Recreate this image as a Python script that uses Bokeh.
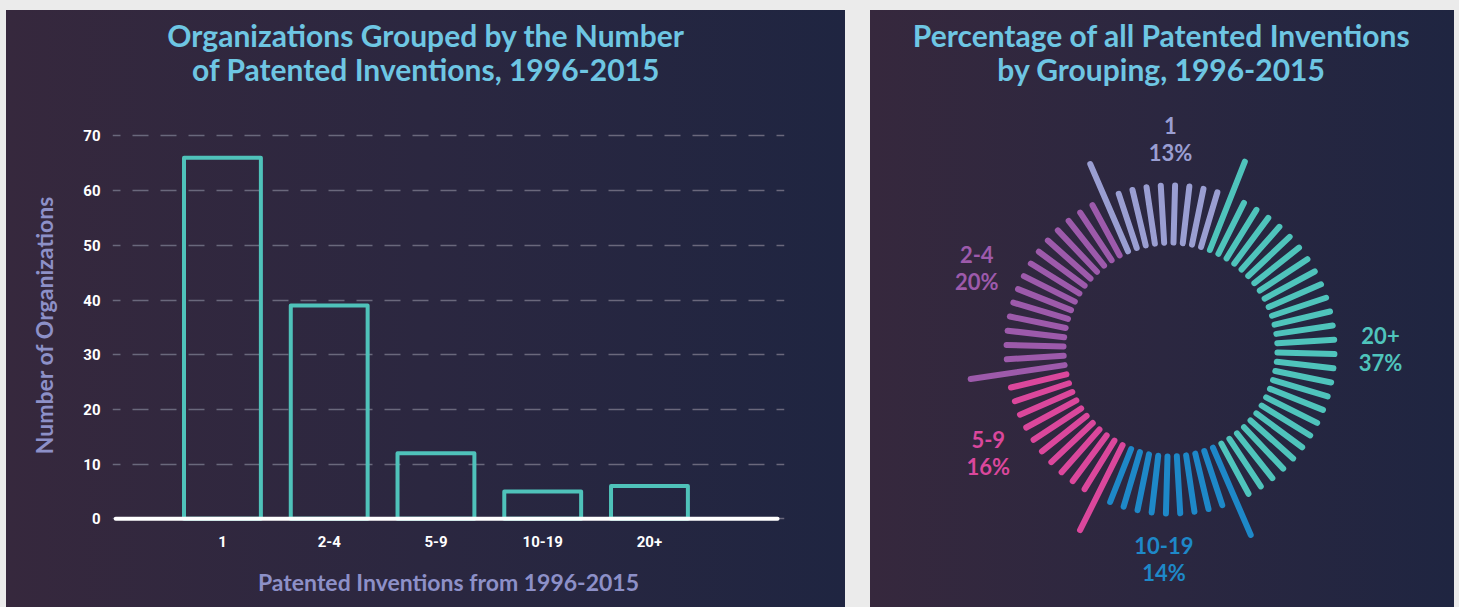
import math
from bokeh.plotting import figure
from bokeh.layouts import row, column
from bokeh.models import Range1d, FixedTicker
from bokeh.core.properties import value
from bokeh.embed import file_html
from bokeh.resources import INLINE

# ---------------- data ----------------
categories = ["1", "2-4", "5-9", "10-19", "20+"]
org_counts = [66, 39, 12, 5, 6]
pct_inventions = [13, 20, 16, 14, 37]
y_ticks = [0, 10, 20, 30, 40, 50, 60, 70]
title_left = ["Organizations Grouped by the Number", "of Patented Inventions, 1996-2015"]
title_right = ["Percentage of all Patented Inventions", "by Grouping, 1996-2015"]
x_axis_title = "Patented Inventions from 1996-2015"
y_axis_title = "Number of Organizations"

# ---------------- style ----------------
GROUP_COLORS = ["#9a9ed2", "#9d5aab", "#db479c", "#1e88c8", "#4fc4bc"]
BAR_COLOR = "#4fc2ba"
TITLE_COLOR = "#6ec6e3"
AXIS_TITLE_COLOR = "#8d90c8"
GRID_COLOR = "#6a687c"
GRADIENT = "linear-gradient(90deg, #36283d 0%, #2b2740 50%, #1f2541 100%)"
PAGE_BG = "#ebebeb"
TITLE_FONT = "Lato"
TICK_FONT = "Roboto"

N_SPOKES = 72
R_IN, R_OUT, R_LONG, R_LABEL = 107, 164, 202, 210
LABEL_NUDGE = {"5-9": 4.4, "2-4": -7.9}   # small angular nudges (degrees) for label placement

LEFT_W, LEFT_BORDER_L, LEFT_BORDER_R = 839, 106, 61


def style_panel(p):
    p.background_fill_alpha = 0
    p.border_fill_alpha = 0
    p.outline_line_color = None
    p.styles = {"background": GRADIENT}


# ---------------- left: title strip ----------------
# frame spans the same columns as the bar chart's frame; x data = pixel column in the panel
pt = figure(width=LEFT_W, height=110,
            x_range=Range1d(LEFT_BORDER_L, LEFT_W - LEFT_BORDER_R), y_range=Range1d(0, 110),
            x_axis_type=None, y_axis_type=None, min_border=0,
            min_border_left=LEFT_BORDER_L, min_border_right=LEFT_BORDER_R,
            toolbar_location=None, output_backend="svg")
style_panel(pt)
pt.xgrid.visible = False
pt.ygrid.visible = False
pt.text(x=[419.5, 419.5], y=[86, 52], text=title_left, text_align="center",
        text_baseline="middle", text_font=value(TITLE_FONT), text_font_style="bold",
        text_font_size="30px", text_color=TITLE_COLOR)

# ---------------- left: bar chart ----------------
xpos = [i + 1 for i in range(len(categories))]
p1 = figure(width=LEFT_W, height=487, x_range=Range1d(-0.03, 6.265), y_range=Range1d(-1.04, 71.9),
            toolbar_location=None, output_backend="svg", min_border=0,
            min_border_left=LEFT_BORDER_L, min_border_right=LEFT_BORDER_R,
            min_border_top=5, min_border_bottom=83)
style_panel(p1)

p1.vbar(x=xpos, top=org_counts, bottom=0, width=0.72, fill_alpha=0,
        line_color=BAR_COLOR, line_width=4, line_join="round")
p1.segment(x0=[0], y0=[0], x1=[6.2], y1=[0], line_color="white", line_width=4, line_cap="round")

p1.xgrid.grid_line_color = None
p1.ygrid.ticker = FixedTicker(ticks=y_ticks)
p1.ygrid.grid_line_color = GRID_COLOR
p1.ygrid.grid_line_width = 1.5
p1.ygrid.grid_line_dash = "16 12"
p1.ygrid.grid_line_dash_offset = 8

p1.yaxis.ticker = FixedTicker(ticks=y_ticks)
p1.xaxis.ticker = FixedTicker(ticks=xpos)
p1.xaxis.major_label_overrides = {x: c for x, c in zip(xpos, categories)}
for ax in (p1.xaxis[0], p1.yaxis[0]):
    ax.axis_line_color = None
    ax.major_tick_line_color = None
    ax.minor_tick_line_color = None
    ax.major_label_text_color = "white"
    ax.major_label_text_font = TICK_FONT
    ax.major_label_text_font_style = "bold"
    ax.major_label_text_font_size = "15px"
    ax.axis_label_text_color = AXIS_TITLE_COLOR
    ax.axis_label_text_font = TITLE_FONT
    ax.axis_label_text_font_style = "bold"
    ax.axis_label_text_font_size = "23px"
p1.yaxis.axis_label = y_axis_title
p1.yaxis.major_label_standoff = 6
p1.yaxis.axis_label_standoff = 22
p1.xaxis.axis_label = x_axis_title
p1.xaxis.major_label_standoff = 5
p1.xaxis.axis_label_standoff = 18

left = column(pt, p1, spacing=0)

# ---------------- right: radial spokes ----------------
pr = figure(width=584, height=597, x_range=Range1d(-300, 284), y_range=Range1d(-258, 339),
            x_axis_type=None, y_axis_type=None, min_border=0,
            toolbar_location=None, output_backend="svg")
style_panel(pr)
pr.xgrid.visible = False
pr.ygrid.visible = False

# clockwise order from the top: first group, then the remaining groups in reverse
order = [0] + list(range(len(categories) - 1, 0, -1))
step = 360.0 / N_SPOKES
theta0 = -pct_inventions[0] / 2 * 3.6

sx0, sy0, sx1, sy1, scol = [], [], [], [], []
lx, ly_name, ly_pct, ltxt_name, ltxt_pct, lcol = [], [], [], [], [], []
cum = 0.0
prev_n = 0
for gi in order:
    start_pct = cum
    cum += pct_inventions[gi]
    n_end = int(math.floor(cum * N_SPOKES / 100 + 1e-9))
    for k in range(prev_n, n_end):
        a = math.radians(theta0 + k * step)
        r1 = R_LONG if k == prev_n else R_OUT
        sx0.append(R_IN * math.sin(a)); sy0.append(R_IN * math.cos(a))
        sx1.append(r1 * math.sin(a)); sy1.append(r1 * math.cos(a))
        scol.append(GROUP_COLORS[gi])
    prev_n = n_end
    mid = theta0 + (start_pct + pct_inventions[gi] / 2) * 3.6 + LABEL_NUDGE.get(categories[gi], 0)
    am = math.radians(mid)
    cx, cy = R_LABEL * math.sin(am), R_LABEL * math.cos(am)
    lx.append(cx); ly_name.append(cy + 14); ly_pct.append(cy - 13)
    ltxt_name.append(categories[gi]); ltxt_pct.append(f"{pct_inventions[gi]}%")
    lcol.append(GROUP_COLORS[gi])

pr.segment(x0=sx0, y0=sy0, x1=sx1, y1=sy1, line_color=scol, line_width=6, line_cap="round")
for ys, txt in ((ly_name, ltxt_name), (ly_pct, ltxt_pct)):
    pr.text(x=lx, y=ys, text=txt, text_color=lcol, text_align="center", text_baseline="middle",
            text_font=value(TITLE_FONT), text_font_style="bold", text_font_size="22px")

pr.text(x=[-9, -9], y=[315, 281], text=title_right, text_align="center", text_baseline="middle",
        text_font=value(TITLE_FONT), text_font_style="bold", text_font_size="30px",
        text_color=TITLE_COLOR)

layout = row(left, pr, spacing=25,
             styles={"position": "fixed", "top": "0px", "left": "0px",
                     "padding": "10px 5px 0px 6px", "background-color": PAGE_BG})

open("out.html", "w").write(file_html(layout, INLINE))
